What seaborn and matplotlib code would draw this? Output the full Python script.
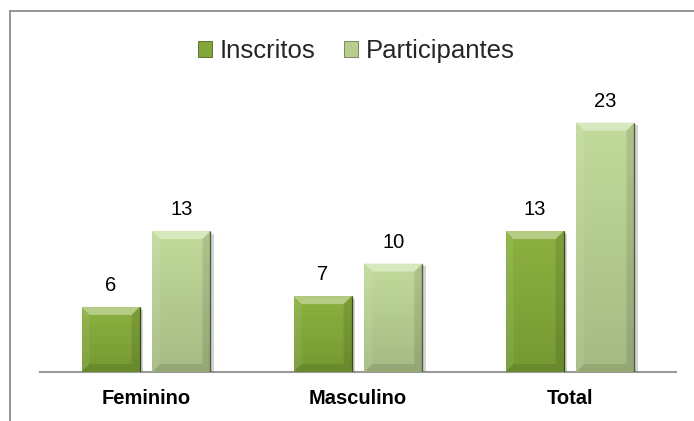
import matplotlib
matplotlib.use("Agg")
import matplotlib.pyplot as plt
import matplotlib.patheffects as pe
from matplotlib.patches import Polygon, Patch
from matplotlib.lines import Line2D
from matplotlib.colors import LinearSegmentedColormap
import seaborn as sns
import pandas as pd
import numpy as np

categories = ["Feminino", "Masculino", "Total"]
series = ["Inscritos", "Participantes"]
inscritos = [6, 7, 13]
participantes = [13, 10, 23]
colors = ["#82a639", "#b6cf8e"]
grad_top = ["#8cb140", "#c2db9b"]
grad_bottom = ["#759932", "#a5ba83"]

df = pd.DataFrame({
    "cat": categories * 2,
    "val": inscritos + participantes,
    "serie": [series[0]] * 3 + [series[1]] * 3,
})

sns.set_theme(style="white")
plt.rcParams["font.family"] = ["Liberation Sans", "DejaVu Sans"]

fig = plt.figure(figsize=(6.94, 4.21), dpi=100)
ax = fig.add_axes([40 / 694, 0.1164, 636 / 694, 0.7724])

sns.barplot(data=df, x="cat", y="val", hue="serie", palette=colors,
            width=0.668, gap=0.18, ax=ax, legend=False, saturation=1)

ax.set_ylim(0, 30)
ax.set_xlim(-0.5, 2.5)

def shade(c, f):
    c = np.array(matplotlib.colors.to_rgb(c))
    if f > 0:
        return tuple(c + (1 - c) * f)
    return tuple(c * (1 + f))

px_x = 3.0 / 636
px_y = 30.0 / (0.7724 * 421)
for i, (cont, col) in enumerate(zip(ax.containers, colors)):
    cmap = LinearSegmentedColormap.from_list("g%d" % i, [grad_bottom[i], grad_top[i]])
    for p in cont.patches:
        p.set_edgecolor("none")
        p.set_path_effects([pe.SimplePatchShadow(offset=(2.5, -2), alpha=0.25, shadow_rgbFace="#555555"), pe.Normal()])
        x0, y0 = p.get_x(), p.get_y()
        w, h = p.get_width(), p.get_height()
        z = p.get_zorder()
        grad = np.linspace(0, 1, 64).reshape(-1, 1)
        im = ax.imshow(grad, cmap=cmap, origin="lower", aspect="auto",
                       extent=(x0, x0 + w, y0, y0 + h), zorder=z + 0.05, interpolation="bilinear")
        im.set_clip_path(p)
        dx, dy = 8 * px_x, 8 * px_y
        top = Polygon([(x0, y0 + h), (x0 + w, y0 + h), (x0 + w - dx, y0 + h - dy), (x0 + dx, y0 + h - dy)],
                      closed=True, facecolor=shade(grad_top[i], 0.35), edgecolor="none", zorder=z + 0.1)
        right = Polygon([(x0 + w, y0 + h), (x0 + w, y0), (x0 + w - dx, y0 + dy), (x0 + w - dx, y0 + h - dy)],
                        closed=True, facecolor="#000000", alpha=0.10, edgecolor="none", zorder=z + 0.1)
        left = Polygon([(x0, y0 + h), (x0, y0), (x0 + dx, y0 + dy), (x0 + dx, y0 + h - dy)],
                       closed=True, facecolor="#ffffff", alpha=0.08, edgecolor="none", zorder=z + 0.1)
        bottom = Polygon([(x0, y0), (x0 + w, y0), (x0 + w - dx, y0 + dy), (x0 + dx, y0 + dy)],
                         closed=True, facecolor="#000000", alpha=0.10, edgecolor="none", zorder=z + 0.1)
        for poly in (top, right, left, bottom):
            ax.add_patch(poly)
        ax.plot([x0 + w, x0 + w], [y0, y0 + h], color=shade(col, -0.55), lw=1.0, zorder=z + 0.2,
                solid_capstyle="butt")
    ax.bar_label(cont, labels=[str(int(v)) for v in cont.datavalues], padding=8.5,
                 fontsize=14.5, color="#000000")

ax.set_xlim(-0.5, 2.5)
ax.set_ylim(0, 30)

for s in ["top", "right", "left"]:
    ax.spines[s].set_visible(False)
ax.spines["bottom"].set_color("#9a9a9a")
ax.spines["bottom"].set_linewidth(1.5)
ax.spines["bottom"].set_zorder(0.5)
ax.set_yticks([])
ax.set_xlabel("")
ax.set_ylabel("")
ax.tick_params(axis="x", length=0, pad=12)
for lab in ax.get_xticklabels():
    lab.set_fontweight("bold")
    lab.set_fontsize(14.5)
    lab.set_color("#000000")

handles = [Patch(facecolor=c, edgecolor=shade(c, -0.4), linewidth=0.6) for c in colors]
fig.legend(handles, series, loc="center", bbox_to_anchor=(0.513, 0.879), ncol=2, frameon=False,
           fontsize=18.5, handlelength=0.55, handleheight=0.6, handletextpad=0.3, columnspacing=1.1)

fig.add_artist(Line2D([10 / 694, 10 / 694], [0, 1 - 11 / 421], color="#8c8c8c", lw=1.3, transform=fig.transFigure))
fig.add_artist(Line2D([10 / 694, 1], [1 - 11 / 421, 1 - 11 / 421], color="#8c8c8c", lw=1.3, transform=fig.transFigure))

fig.savefig("out.png", dpi=100, facecolor="white")
